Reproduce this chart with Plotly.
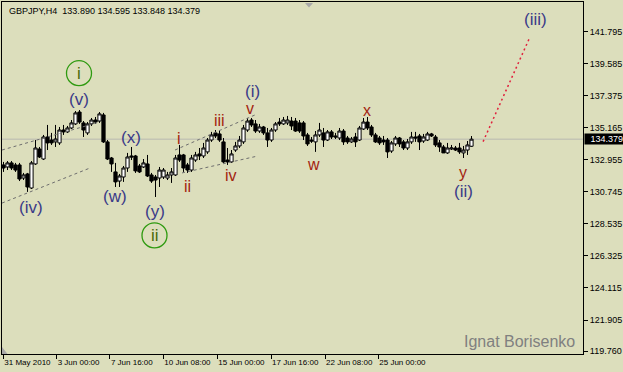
import plotly.graph_objects as go

# ---------------- data ----------------
symbol = "GBPJPY,H4"
opens = [132.60,132.46,132.74,132.60,132.60,131.70,131.98,131.01,132.67,133.70,
         133.01,134.53,134.32,134.19,134.12,135.01,134.88,135.15,135.43,136.25,
         135.50,134.81,135.43,135.70,135.63,136.05,134.19,133.08,132.12,131.49,
         131.77,132.39,133.22,133.22,132.53,132.46,132.67,131.91,131.77,131.70,
         131.77,131.70,131.91,131.91,133.29,133.29,132.60,132.25,132.94,133.36,
         133.22,133.50,134.32,134.81,134.74,134.19,132.94,132.81,133.63,133.91,
         134.19,135.01,135.70,135.43,134.94,135.22,134.81,134.32,135.01,135.56,
         135.43,135.50,135.63,135.63,135.50,135.50,134.67,134.32,134.19,134.67,
         134.81,134.32,134.88,134.60,134.46,134.94,134.46,134.19,134.53,134.32,
         135.08,135.56,135.22,134.67,134.46,134.32,134.32,133.56,134.05,134.46,
         134.19,133.77,134.19,134.53,134.60,134.25,134.32,134.74,134.53,134.12,
         133.84,133.43,133.70,133.77,133.77,133.43,133.63,133.890]
highs = [132.81,132.87,132.87,132.74,132.74,132.05,132.05,132.87,134.32,133.84,
         134.67,135.36,134.81,135.36,135.22,135.36,135.29,135.70,136.32,136.39,
         135.63,135.56,135.84,135.91,136.25,136.19,134.32,133.15,132.74,131.98,
         132.53,133.43,133.84,133.29,132.67,133.01,133.29,132.05,131.91,132.46,
         132.39,132.12,132.39,133.29,133.98,133.36,132.74,133.29,133.50,133.77,
         134.12,134.46,134.88,135.01,135.01,134.46,133.77,133.63,134.19,134.60,
         135.36,135.84,135.84,135.70,135.43,135.29,135.15,135.15,135.56,135.84,
         135.91,135.98,135.91,135.84,135.70,135.63,134.81,134.53,134.94,135.50,
         135.15,135.01,135.01,134.81,135.15,135.08,134.60,134.53,134.81,135.29,
         135.84,135.91,135.36,134.81,134.60,134.60,134.46,134.25,134.60,134.53,
         134.32,134.39,134.88,134.88,134.74,134.74,134.88,134.81,134.67,134.32,
         133.98,134.12,133.98,133.91,134.12,133.91,134.25,134.595]
lows = [132.12,132.25,132.25,132.12,131.49,131.56,130.74,130.94,132.60,133.08,
        132.94,133.63,133.98,133.84,133.98,134.67,134.81,135.08,135.36,135.43,
        134.53,134.67,135.29,135.43,135.50,134.12,132.94,132.12,131.08,131.08,
        131.43,132.12,132.94,132.05,132.05,132.39,131.77,131.36,130.39,131.08,
        131.63,131.56,131.36,131.84,132.81,132.12,132.05,132.12,132.81,132.94,
        133.08,133.36,134.19,134.46,134.19,132.74,132.60,132.74,133.50,133.77,
        134.05,134.88,135.22,134.81,134.81,134.67,133.84,134.19,134.88,135.29,
        135.36,135.36,135.01,134.88,134.81,134.32,133.91,134.12,133.50,134.53,
        133.84,134.25,134.39,134.39,134.32,133.98,134.05,134.12,133.84,134.25,
        135.01,135.01,134.53,134.12,133.98,133.98,133.08,133.43,133.91,133.84,
        133.63,133.63,134.05,134.19,133.63,134.12,134.25,134.53,133.84,133.50,
        133.43,133.36,133.63,133.56,133.36,133.08,133.29,133.848]
closes = [132.39,132.74,132.39,132.25,131.63,131.91,131.08,132.74,133.77,133.15,
          134.53,134.12,134.12,134.39,135.01,134.88,135.15,135.50,136.19,135.56,
          135.01,135.43,135.70,135.56,136.12,134.19,133.01,132.67,131.43,131.84,
          132.39,133.15,133.15,132.19,132.12,132.74,131.84,131.49,131.56,132.25,
          132.25,131.91,132.12,133.08,132.94,132.39,132.25,133.08,133.29,133.22,
          133.77,134.32,134.67,134.60,134.32,132.81,132.81,133.36,133.91,134.32,
          135.15,135.63,135.36,134.94,135.22,134.81,134.32,135.01,135.43,135.43,
          135.70,135.70,135.29,134.94,134.94,134.60,134.05,134.25,134.67,135.01,
          134.32,134.88,134.53,134.53,134.94,134.19,134.19,134.39,134.19,135.15,
          135.56,135.15,134.67,134.19,134.12,134.19,133.50,134.12,134.46,134.05,
          133.77,134.19,134.53,134.46,134.19,134.53,134.74,134.60,133.98,133.84,
          133.43,133.77,133.77,133.63,133.50,133.63,133.98,134.379]

# x-axis tick positions (bar index) and labels
x_tick_vals = [-0.05, 13.3, 26.6, 39.95, 53.45, 66.9, 80.4, 93.7]
x_tick_text = ["31 May 2010", "3 Jun 00:00", "7 Jun 16:00", "10 Jun 08:00",
               "15 Jun 00:00", "17 Jun 16:00", "22 Jun 08:00", "25 Jun 00:00"]
y_tick_vals = [141.795, 139.585, 137.375, 135.165, 132.955, 130.745,
               128.535, 126.325, 124.115, 121.905, 119.760]

# channel lines (bar index, price)
channels = [
    ([-0.375, 24.125], [133.63, 135.57]),
    ([-0.375, 21.625], [129.97, 132.39]),
    ([42.875, 62.875], [133.63, 136.05]),
    ([44.625, 63.625], [132.05, 133.22]),
]
# projected wave (iii) path
proj_x = [119.9, 131.4]
proj_y = [134.21, 141.29]

# wave labels: text, bar, price, style
wave_labels = [
    ("i", 18.875, 138.93, "circle"),
    ("(v)", 18.875, 137.12, "blue"),
    ("(iv)", 6.75, 129.67, "blue"),
    ("(w)", 27.75, 130.39, "blue"),
    ("(x)", 31.875, 134.50, "blue"),
    ("(y)", 37.75, 129.36, "blue"),
    ("ii", 37.75, 127.74, "circle"),
    ("i", 43.875, 134.43, "red"),
    ("ii", 45.875, 131.08, "red"),
    ("iii", 53.875, 135.67, "red"),
    ("iv", 56.875, 131.87, "red"),
    ("v", 61.625, 136.50, "red"),
    ("(i)", 62.125, 137.67, "blue"),
    ("w", 77.5, 132.60, "red"),
    ("x", 90.875, 136.39, "red"),
    ("y", 114.75, 132.05, "red"),
    ("(ii)", 114.875, 130.80, "blue"),
    ("(iii)", 133.0, 142.60, "blue"),
]

# ---------------- figure ----------------
BG = "#DCDEBC"
FONT = "Arial, Liberation Sans, sans-serif"
bars = list(range(len(closes)))

fig = go.Figure()
fig.add_trace(go.Candlestick(
    x=bars, open=opens, high=highs, low=lows, close=closes,
    increasing=dict(line=dict(color="black", width=1), fillcolor="white"),
    decreasing=dict(line=dict(color="black", width=1), fillcolor="black"),
    whiskerwidth=0, showlegend=False, hoverinfo="skip",
))
for cx, cy in channels:
    fig.add_trace(go.Scatter(x=cx, y=cy, mode="lines", showlegend=False,
                             line=dict(color="#6E6E6E", width=1, dash="3px,3px"),
                             hoverinfo="skip"))
fig.add_trace(go.Scatter(x=proj_x, y=proj_y, mode="lines", showlegend=False,
                         line=dict(color="#E0203C", width=1.5, dash="2px,3px"),
                         hoverinfo="skip"))

last = closes[-1]
shapes = [
    dict(type="line", xref="paper", x0=0, x1=1, yref="y", y0=last, y1=last,
         line=dict(color="#B8B8B0", width=1), layer="below"),
    dict(type="path", xref="paper", yref="paper",
         path="M 0.5215,0.9972 L 0.5353,0.9972 L 0.5284,0.9844 Z",
         fillcolor="#A8A8A8", line=dict(width=0)),
    dict(type="path", xref="paper", yref="paper",
         path="M 0,0.02 L 0,0 L 0.0095,0 Z",
         fillcolor="#A8A8A8", line=dict(width=0)),
]
annotations = []
colors = {"blue": "#3A3A88", "red": "#A32410", "circle": "#4A6A08"}
for text, bx, py, style in wave_labels:
    annotations.append(dict(x=bx, y=py, xref="x", yref="y", text=text,
                            showarrow=False, xanchor="center", yanchor="middle",
                            font=dict(family=FONT, size=17 if style != "red" else 16,
                                      color=colors[style])))
    if style == "circle":
        shapes.append(dict(type="circle", xref="x", yref="y",
                           xsizemode="pixel", ysizemode="pixel",
                           xanchor=bx, yanchor=py, x0=-12.5, x1=12.5, y0=-12.5, y1=12.5,
                           line=dict(color="#2E9A10", width=1.3)))

title = f"{symbol}  {opens[-1]:.3f} {highs[-1]:.3f} {lows[-1]:.3f} {closes[-1]:.3f}"
annotations.append(dict(x=0.0086, y=0.975, xref="paper", yref="paper", text=title,
                        showarrow=False, xanchor="left", yanchor="middle",
                        font=dict(family=FONT, size=9, color="black")))
annotations.append(dict(x=0.9897, y=0.035, xref="paper", yref="paper",
                        text="Ignat Borisenko", showarrow=False,
                        xanchor="right", yanchor="middle",
                        font=dict(family=FONT, size=16, color="#808080")))
annotations.append(dict(x=1, y=last, xref="paper", yref="y", text=f"{last:.3f}",
                        showarrow=False, xanchor="left", yanchor="middle",
                        xshift=1, width=38, height=10, align="right",
                        bgcolor="black", borderpad=0,
                        font=dict(family=FONT, size=9, color="white")))

fig.update_layout(
    width=623, height=372,
    margin=dict(l=2, r=40, t=2, b=18),
    paper_bgcolor=BG, plot_bgcolor=BG,
    boxgap=0.2, boxgroupgap=0,
    shapes=shapes, annotations=annotations,
    xaxis=dict(range=[-0.375, 144.875], tickvals=x_tick_vals, ticktext=x_tick_text,
               showgrid=False, zeroline=False, showline=True, linecolor="black",
               linewidth=1, mirror=True, ticks="outside", ticklen=4,
               tickcolor="black", ticklabelposition="outside right",
               tickangle=0, automargin=False,
               tickfont=dict(family=FONT, size=8, color="black"),
               rangeslider=dict(visible=False), fixedrange=True),
    yaxis=dict(range=[119.56, 143.84], side="right", tickvals=y_tick_vals,
               ticktext=[f"{v:.3f}" for v in y_tick_vals], automargin=False,
               showgrid=False, zeroline=False, showline=True, linecolor="black",
               linewidth=1, mirror=True, ticks="outside", ticklen=4,
               tickcolor="black", tickfont=dict(family=FONT, size=9, color="black"),
               fixedrange=True),
)
fig.write_html("out.html")
